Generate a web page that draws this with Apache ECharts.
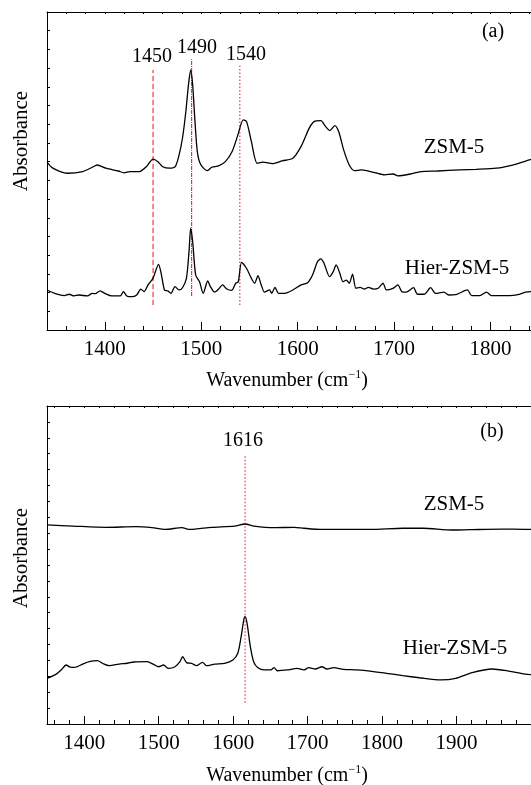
<!DOCTYPE html>
<html lang="en">
<head>
<meta charset="UTF-8">
<title>FTIR pyridine</title>
<script src="https://cdn.jsdelivr.net/npm/echarts@6/dist/echarts.min.js"></script>
<style>
  html, body { margin: 0; padding: 0; background: #fff; }
  #main { width: 531px; height: 785px; }
</style>
</head>
<body>
<div id="main"></div>
<script>
    // panel (a): wavenumber, absorbance (a.u.)
    const zsmA = [[1340,0.897],[1346,0.865],[1361,0.838],[1377,0.847],[1387,0.870],[1392,0.882],[1401,0.865],
        [1414,0.850],[1420,0.840],[1426,0.847],[1436,0.847],[1443,0.873],[1450,0.914],[1455,0.900],[1460,0.873],
        [1467,0.865],[1473,0.873],[1477,0.936],[1480.5,1.025],[1484,1.167],[1486.7,1.310],[1489,1.390],
        [1491.1,1.310],[1493.5,1.114],[1495.9,0.954],[1499.3,0.886],[1506,0.852],[1511,0.870],[1518,0.877],
        [1525,0.900],[1532,0.954],[1538,1.043],[1543.5,1.123],[1547,1.114],[1552,1.007],[1558,0.891],
        [1564,0.897],[1574,0.889],[1584,0.904],[1595,0.918],[1603.4,0.980],[1612,1.079],[1617,1.114],
        [1624,1.119],[1629,1.087],[1633.4,1.066],[1638.5,1.093],[1642.6,1.060],[1647.7,0.963],[1653.5,0.882],
        [1659,0.852],[1666,0.856],[1680,0.841],[1690,0.829],[1699,0.834],[1704,0.824],[1717,0.834],
        [1728,0.847],[1745,0.850],[1768,0.856],[1785,0.859],[1806,0.865],[1823,0.882],[1837,0.904],[1842,0.912]];
    const hierA = [[1340,0.214],[1349.5,0.193],[1358,0.184],[1363,0.191],[1368,0.182],[1373,0.187],[1382,0.182],
        [1387,0.196],[1390,0.194],[1395,0.209],[1400.6,0.194],[1407,0.182],[1416,0.182],[1419.3,0.205],
        [1422.7,0.182],[1428,0.178],[1433,0.187],[1437.3,0.219],[1440.7,0.205],[1444.8,0.241],[1449.9,0.276],
        [1455.7,0.351],[1458.4,0.303],[1461.8,0.214],[1465.2,0.209],[1468.6,0.196],[1472.7,0.232],[1477,0.214],
        [1480.5,0.226],[1484.6,0.276],[1487.3,0.419],[1489,0.544],[1491.1,0.472],[1494.2,0.294],[1498.2,0.258],
        [1502,0.196],[1506.7,0.262],[1509.5,0.232],[1513.9,0.202],[1518,0.219],[1522.1,0.241],[1526.5,0.219],
        [1531.6,0.212],[1535.7,0.250],[1538.4,0.258],[1541.8,0.362],[1546.9,0.330],[1552,0.276],[1555.4,0.250],
        [1558.8,0.290],[1562.2,0.241],[1565.6,0.202],[1570.7,0.214],[1573.1,0.196],[1576.5,0.228],[1580.3,0.196],
        [1586.5,0.196],[1595,0.214],[1603.5,0.241],[1610.3,0.253],[1615.4,0.294],[1620.5,0.365],[1623.9,0.380],
        [1627.3,0.357],[1633.1,0.285],[1636.9,0.312],[1639.9,0.348],[1643.7,0.303],[1647.1,0.258],[1650.5,0.267],
        [1653.5,0.250],[1656.9,0.299],[1660.4,0.223],[1664.8,0.228],[1669.2,0.219],[1673.3,0.228],[1678.4,0.219],
        [1683.5,0.223],[1688.6,0.250],[1692,0.214],[1698.8,0.223],[1703.9,0.241],[1708,0.205],[1712.4,0.202],
        [1720.2,0.226],[1724.3,0.191],[1731.1,0.191],[1737.9,0.226],[1743,0.196],[1751.6,0.202],[1756.6,0.187],
        [1765.2,0.191],[1776,0.214],[1780.5,0.184],[1789,0.184],[1795.8,0.202],[1800.9,0.184],[1812.8,0.184],
        [1819.6,0.184],[1829.8,0.191],[1836.6,0.202],[1842,0.205]];

    // panel (b)
    const zsmB = [[1350,1.252],[1385,1.245],[1429,1.237],[1469,1.241],[1491,1.235],[1509,1.224],[1531,1.235],
        [1542,1.224],[1571,1.237],[1602,1.245],[1616,1.258],[1628,1.245],[1655,1.235],[1682,1.237],[1695,1.231],
        [1717,1.224],[1735,1.224],[1784,1.224],[1828,1.231],[1855,1.231],[1894,1.220],[1917,1.222],[1961,1.226],
        [1992,1.224],[2000,1.224]];
    const hierB = [[1350,0.287],[1362.4,0.314],[1369.1,0.340],[1375.7,0.371],[1380.1,0.360],[1386.8,0.356],
        [1397.9,0.377],[1406.7,0.392],[1417.8,0.398],[1424.5,0.382],[1433.3,0.367],[1446.6,0.377],[1457.7,0.382],
        [1466.6,0.390],[1484.3,0.392],[1493.2,0.375],[1499.8,0.360],[1506.5,0.371],[1513.1,0.350],[1522,0.360],
        [1528.6,0.392],[1532.2,0.423],[1537.5,0.386],[1544.2,0.382],[1550.8,0.367],[1558.8,0.388],[1564.1,0.367],
        [1575.2,0.377],[1588.5,0.382],[1599.6,0.403],[1606.2,0.445],[1610.7,0.549],[1614.2,0.654],[1616,0.675],
        [1618.7,0.633],[1623.1,0.486],[1627.5,0.392],[1632.8,0.356],[1641.7,0.340],[1650.6,0.340],[1655,0.354],
        [1659.4,0.335],[1672.7,0.340],[1686,0.350],[1694.9,0.340],[1701.5,0.354],[1710.4,0.346],[1719.3,0.360],
        [1725.9,0.346],[1734.8,0.354],[1748.1,0.344],[1765.8,0.340],[1783.5,0.333],[1805.7,0.319],[1827.9,0.304],
        [1850,0.291],[1878.9,0.277],[1898.8,0.287],[1921,0.323],[1947.6,0.346],[1969.8,0.333],[1991.9,0.314],
        [2000,0.310]];

    // reference lines: wavenumber, y from, y to
    const refA = [[1450,0.134,1.390],[1490,0.182,1.448],[1540,0.134,1.413]];
    const refB = [[1616,0.134,1.692]];

    const majorA = [1400,1500,1600,1700,1800];
    const minorA = [1340,1360,1380,1420,1440,1460,1480,1520,1540,1560,1580,1620,1640,1660,1680,1720,1740,1760,1780,1820,1840];
    const majorB = [1400,1500,1600,1700,1800,1900];
    const minorB = [1360,1380,1420,1440,1460,1480,1520,1540,1560,1580,1620,1640,1660,1680,1720,1740,1760,1780,1820,1840,1860,1880,1920,1940,1960,1980];

    const font = 'Liberation Serif';
    let myChart = echarts.init(document.getElementById('main'), null, {renderer: 'canvas'});

    function xAxes(gi, min, max, major, minor) {
        return [
            {gridIndex: gi, type: 'value', min: min, max: max, position: 'bottom',
                axisLine: {lineStyle: {color: '#000', width: 1}},
                axisTick: {inside: true, length: 8, customValues: major, lineStyle: {color: '#000'}},
                axisLabel: {customValues: major, color: '#000', fontFamily: font, fontSize: 21, margin: 9,
                    formatter: v => String(v)},
                splitLine: {show: false}},
            {gridIndex: gi, type: 'value', min: min, max: max, position: 'bottom',
                axisLine: {show: false},
                axisTick: {inside: true, length: 4, customValues: minor, lineStyle: {color: '#000'}},
                axisLabel: {show: false}, splitLine: {show: false}},
            {gridIndex: gi, type: 'value', min: min, max: max, position: 'top',
                axisLine: {lineStyle: {color: '#000', width: 1}},
                axisTick: {inside: true, length: 2, customValues: major.concat(minor), lineStyle: {color: '#000'}},
                axisLabel: {show: false}, splitLine: {show: false}}
        ];
    }
    function yAxis(gi, max) {
        return {gridIndex: gi, type: 'value', min: 0, max: max, interval: 0.1,
            axisLine: {show: true, lineStyle: {color: '#000', width: 1}},
            axisTick: {show: true, inside: true, length: 3, lineStyle: {color: '#000'}},
            axisLabel: {show: false}, splitLine: {show: false}};
    }
    function curve(data, xi, yi) {
        return {type: 'line', data: data, xAxisIndex: xi, yAxisIndex: yi, showSymbol: false, smooth: 0.25,
            lineStyle: {color: '#000', width: 1.3}, animation: false, z: 3};
    }
    function refLine(r, xi, yi, type) {
        return {type: 'line', data: [[r[0], r[1]], [r[0], r[2]]], xAxisIndex: xi, yAxisIndex: yi, showSymbol: false,
            lineStyle: {color: '#e8242b', width: 1.1, type: type}, animation: false, z: 2};
    }

    function txt(x, y, text, size, rot) {
        return {type: 'text', x: x, y: y, rotation: rot || 0,
            style: {text: text, fill: '#000', font: size + 'px "' + font + '"', align: 'center', verticalAlign: 'middle'}};
    }
    function axisTitle(x, y) {
        return {type: 'text', x: x, y: y,
            style: {text: '{a|Wavenumber (cm}{s|−1}{a|)}', align: 'center', verticalAlign: 'middle',
                rich: {a: {fontFamily: font, fontSize: 20, fill: '#000', lineHeight: 22, verticalAlign: 'bottom'},
                       s: {fontFamily: font, fontSize: 12, fill: '#000', lineHeight: 22, verticalAlign: 'top'}}}};
    }

    let option = {
        backgroundColor: '#fff',
        animation: false,
        grid: [
            {left: 47, right: 0, top: 12, height: 318},
            {left: 47, right: 0, top: 406, height: 318}
        ],
        xAxis: xAxes(0, 1340, 1842, majorA, minorA).concat(xAxes(1, 1350, 2000, majorB, minorB)),
        yAxis: [yAxis(0, 1.7), yAxis(1, 2.0)],
        series: [
            curve(zsmA, 0, 0),
            curve(hierA, 0, 0),
            refLine(refA[0], 0, 0, [5, 3]),
            refLine(refA[1], 0, 0, [4, 1, 1, 1]),
            refLine(refA[2], 0, 0, [1.5, 2]),
            curve(zsmB, 3, 1),
            curve(hierB, 3, 1),
            refLine(refB[0], 3, 1, [1.5, 2])
        ],
        graphic: [
            txt(493, 32, '(a)', 20),
            txt(152, 57, '1450', 20),
            txt(197, 48, '1490', 20),
            txt(246, 55, '1540', 20),
            txt(454, 147, 'ZSM-5', 21),
            txt(457, 268, 'Hier-ZSM-5', 21),
            txt(21, 141, 'Absorbance', 21, Math.PI / 2),
            axisTitle(287, 380),
            txt(492, 432, '(b)', 20),
            txt(243, 441, '1616', 20),
            txt(454, 504, 'ZSM-5', 21),
            txt(455, 648, 'Hier-ZSM-5', 21),
            txt(21, 558, 'Absorbance', 21, Math.PI / 2),
            axisTitle(287, 775)
        ]
    };
    myChart.setOption(option);
</script>
</body>
</html>
